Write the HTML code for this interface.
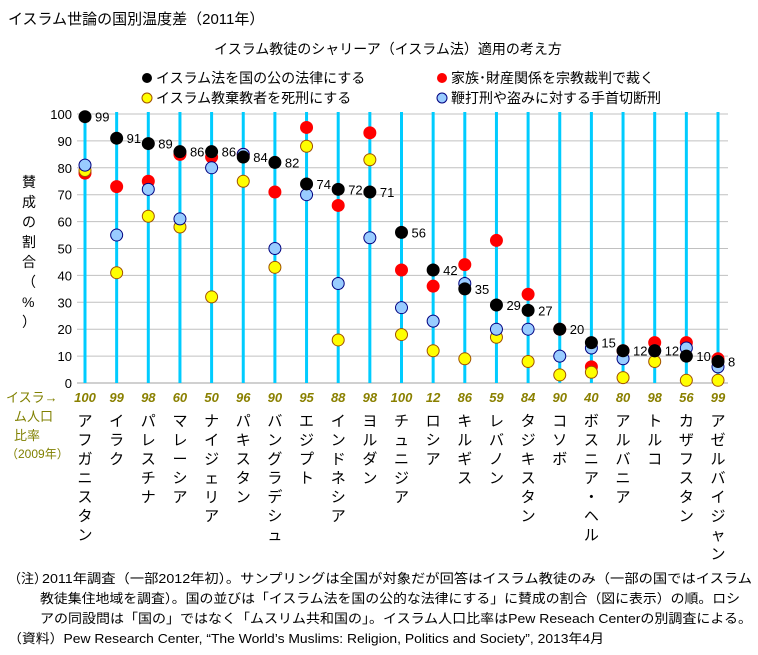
<!DOCTYPE html>
<html><head><meta charset="utf-8">
<style>
html,body{margin:0;padding:0;background:#fff;}
svg{display:block;font-family:"Liberation Sans","Noto Sans CJK JP",sans-serif;}
</style></head>
<body>
<svg id="chart" width="758" height="655" viewBox="0 0 758 655" xmlns="http://www.w3.org/2000/svg">
<text x="8" y="24" font-size="15" fill="#000">イスラム世論の国別温度差（2011年）</text>
<text x="388" y="54" font-size="14" text-anchor="middle" fill="#000">イスラム教徒のシャリーア（イスラム法）適用の考え方</text>
<g font-size="14">
 <g><circle cx="147" cy="78" r="5" fill="#000"/><text x="156" y="83">イスラム法を国の公の法律にする</text></g>
 <g><circle cx="442" cy="78" r="5" fill="#f00"/><text x="451" y="83">家族･財産関係を宗教裁判で裁く</text></g>
 <g><circle cx="147" cy="98" r="5" fill="#ff0" stroke="#a05000"/><text x="156" y="103">イスラム教棄教者を死刑にする</text></g>
 <g><circle cx="442" cy="98" r="5" fill="#99ccff" stroke="#000080"/><text x="451" y="103">鞭打刑や盗みに対する手首切断刑</text></g>
</g>
<text font-size="14" fill="#000">
 <tspan x="22" y="187">賛</tspan><tspan x="22" y="207">成</tspan><tspan x="22" y="227">の</tspan><tspan x="22" y="247">割</tspan><tspan x="22" y="267">合</tspan><tspan x="22" y="287">（</tspan><tspan x="22" y="307">%</tspan><tspan x="22" y="327">）</tspan>
</text>
<g font-size="13" fill="#808000">
 <text x="6" y="402">イスラ→</text><text x="14" y="421">ム人口</text><text x="14" y="440">比率</text><text x="6" y="458" font-size="12">（2009年）</text>
</g>
<g id="grid"></g><g id="cols"></g><g id="marks"></g><g id="labels"></g>
<g font-size="13" fill="#000">
 <text x="8" y="583">（注）</text>
 <text x="42" y="583" textLength="710" lengthAdjust="spacingAndGlyphs">2011年調査（一部2012年初）。サンプリングは全国が対象だが回答はイスラム教徒のみ（一部の国ではイスラム</text>
 <text x="40" y="603" textLength="700" lengthAdjust="spacingAndGlyphs">教徒集住地域を調査）。国の並びは「イスラム法を国の公的な法律にする」に賛成の割合（図に表示）の順。ロシ</text>
 <text x="40" y="623" textLength="712" lengthAdjust="spacingAndGlyphs">アの同設問は「国の」ではなく「ムスリム共和国の」。イスラム人口比率はPew Reseach Centerの別調査による。</text>
 <text x="8" y="643" textLength="596" lengthAdjust="spacingAndGlyphs">（資料）Pew Research Center, “The World’s Muslims: Religion, Politics and Society”, 2013年4月</text>
</g>
</svg>
<script>
const countries=["アフガニスタン","イラク","パレスチナ","マレーシア","ナイジェリア","パキスタン","バングラデシュ","エジプト","インドネシア","ヨルダン","チュニジア","ロシア","キルギス","レバノン","タジキスタン","コソボ","ボスニア・ヘル","アルバニア","トルコ","カザフスタン","アゼルバイジャン"];
const muslimPct=[100,99,98,60,50,96,90,95,88,98,100,12,86,59,84,90,40,80,98,56,99];
const nationalLaw=[99,91,89,86,86,84,82,74,72,71,56,42,35,29,27,20,15,12,12,10,8];
const familyCourt=[78,73,75,85,84,85,71,95,66,93,42,36,44,53,33,20,6,12,15,15,9];
const apostasyDeath=[79,41,62,58,32,75,43,88,16,83,18,12,9,17,8,3,4,2,8,1,1];
const corporal=[81,55,72,61,80,85,50,70,37,54,28,23,37,20,20,10,13,9,12,13,6];
const yTicks=[0,10,20,30,40,50,60,70,80,90,100];

const NS="http://www.w3.org/2000/svg";
const X0=85,X1=718,Y0=383,Y100=114,PL=77,PR=728;
const xs=i=>X0+(X1-X0)*i/(countries.length-1);
const ys=v=>Y0-(Y0-Y100)*v/100;
function mk(tag,attrs,parent){const e=document.createElementNS(NS,tag);for(const k in attrs)e.setAttribute(k,attrs[k]);document.getElementById(parent).appendChild(e);return e;}

yTicks.forEach(t=>{
 const l=mk('line',{x1:PL,x2:PR,y1:ys(t),y2:ys(t),stroke:t===0?'#a0a0a0':'#c0c0c0','stroke-width':1},'grid');
 
 
 const tx=mk('text',{x:72,y:ys(t)+5,'font-size':13,'text-anchor':'end'},'grid');
 tx.textContent=t;
 
 
});
countries.forEach((c,i)=>{
 const l=mk('line',{x1:xs(i),x2:xs(i),y1:ys(100)-2,y2:Y0,stroke:'#00ccff','stroke-width':3},'cols');
 
 
 const p=mk('text',{x:xs(i),y:402,'font-size':13,'font-weight':'bold','font-style':'italic','text-anchor':'middle',fill:'#8a8000'},'labels');
 p.textContent=muslimPct[i];
 
 
 const t=mk('text',{'font-size':15,'text-anchor':'middle'},'labels');
 
 
 [...c].forEach((ch,k)=>{const s=document.createElementNS(NS,'tspan');s.setAttribute('x',xs(i));s.setAttribute('y',426+k*19);s.textContent=ch;t.appendChild(s);});
});
const series=[
 {name:'family-court',d:familyCourt,fill:'#f00',stroke:'#f00'},
 {name:'apostasy-death',d:apostasyDeath,fill:'#ffff00',stroke:'#a05000'},
 {name:'corporal',d:corporal,fill:'#99ccff',stroke:'#000080'},
 {name:'national-law',d:nationalLaw,fill:'#000',stroke:'#000'}
];
series.forEach(s=>{
 s.d.forEach((v,i)=>{
  const c=mk('circle',{cx:xs(i),cy:ys(v),r:6,fill:s.fill,stroke:s.stroke,'stroke-width':1},'marks');
  
  
 });
});
nationalLaw.forEach((v,i)=>{
 const t=mk('text',{x:xs(i)+10,y:ys(v)+5,'font-size':13},'labels');
 t.textContent=v;
 
 
});
</script>
</body></html>
